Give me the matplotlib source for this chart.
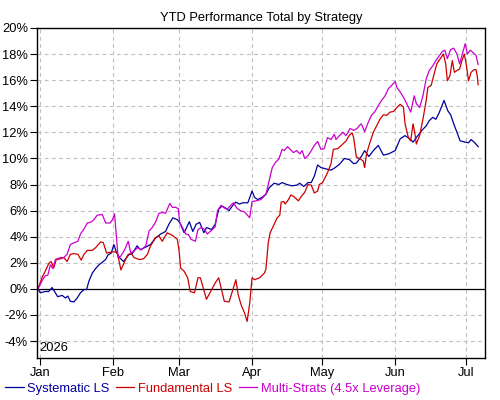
import matplotlib
matplotlib.use("Agg")
import matplotlib.pyplot as plt
import matplotlib.dates as mdates
from matplotlib import ticker
import pandas as pd

plt.rcParams["font.family"] = ["Liberation Sans", "DejaVu Sans"]
FS = 9.3
plt.rcParams["font.size"] = FS

START = pd.Timestamp("2026-01-01")

# days since Jan 1 2026 and YTD return in %
sys_days = [-1.0, 0, 2.1, 3.6, 5.0, 6.4, 7.4, 9.3, 10.7, 11.7, 12.8, 14.3, 15.7, 17.1, 18.6, 19.7, 20.7, 22.1, 23.5, 25.0, 26.4, 27.8, 28.8, 30.2, 31.3,
            32.4, 33.7, 35.4, 37.6, 39.1, 41.2, 42.6, 44.8, 46.9, 49.0, 51.2, 53.3, 54.7, 56.4, 58.3,
            59.3, 61.2, 63.4, 64.9, 66.3, 67.8, 69.6, 70.7, 72.9, 74.4, 75.9, 77.3, 78.8, 80.3, 81.7, 83.2, 84.7, 86.1, 88.3,
            90.1, 91.2, 92.6, 94.6, 96.0, 97.4, 99.5, 101.5, 102.9, 104.9, 107.0, 109.1, 110.4, 112.1, 113.9, 115.3, 116.6, 118.0, 119.4,
            121.5, 123.7, 125.1, 127.3, 129.4, 131.6, 133.3, 134.5, 136.6, 138.0, 139.8, 141.7, 143.8, 146.0, 148.2, 151.0,
            153.1, 155.2, 157.2, 158.6, 160.0, 162.1, 164.2, 165.5, 167.0, 168.3, 169.7, 171.8, 173.4, 174.6, 175.9, 177.3, 178.6, 180.7,
            182.2, 183.3, 184.9, 186.3]
sys_vals = [0, -0.3, -0.2, -0.2, 0.1, -0.3, -0.6, -0.5, -0.7, -0.55, -0.95, -1.0, -0.7, -0.3, -0.05, -0.05, 0.6, 1.2, 1.55, 1.85, 2.05, 2.25, 2.6, 2.75, 3.4,
            2.8, 2.4, 2.1, 2.6, 2.7, 3.3, 3.0, 3.2, 3.4, 3.9, 4.2, 4.4, 4.95, 5.45, 5.3,
            5.1, 4.3, 5.15, 4.4, 4.95, 5.1, 4.3, 4.7, 4.55, 4.95, 6.1, 6.35, 6.2, 6.0, 6.35, 6.65, 6.5, 6.6, 6.6,
            7.5, 7.0, 6.85, 7.05, 7.25, 7.75, 8.1, 8.0, 8.15, 8.0, 7.9, 7.95, 8.1, 7.85, 8.15, 8.15, 8.65, 9.5, 9.3,
            9.2, 9.1, 9.25, 9.55, 10.0, 9.9, 9.6, 9.65, 10.15, 10.6, 10.15, 10.6, 11.0, 10.25, 10.35, 10.6,
            11.5, 11.75, 11.5, 11.25, 11.6, 12.1, 12.5, 12.9, 13.15, 13.0, 13.5, 14.45, 13.65, 13.35, 12.65, 12.0, 11.35, 11.25,
            11.2, 11.45, 11.2, 10.9]

fund_days = [-1.0, 0.7, 2.1, 3.6, 4.6, 5.7, 6.8, 8.6, 10.0, 11.4, 12.8, 14.3, 16.0, 17.4, 18.6, 20.0, 22.1, 23.5, 25.7, 26.8, 28.2, 29.7, 31.4,
             32.8, 34.3, 35.9, 37.4, 38.8, 39.9, 42.1, 43.9, 45.6, 46.9, 49.0, 50.5, 51.9, 54.0, 56.2, 58.3,
             59.0, 59.7, 61.2, 62.7, 63.8, 65.6, 67.1, 68.1, 69.3, 70.7, 72.5, 74.4, 75.9, 76.9, 78.3, 80.3, 81.7, 83.2, 84.2, 85.4, 86.9, 88.0, 89.1,
             90.1, 91.2, 93.3, 95.3, 96.0, 97.0, 97.8, 99.5, 100.8, 101.9, 102.5, 103.6, 104.2, 105.6, 106.6, 107.7, 109.8, 111.1, 112.5, 113.9, 115.3, 116.6, 118.0, 118.7,
             120.1, 122.2, 123.7, 124.7, 126.6, 128.7, 130.1, 131.6, 132.7, 133.3, 134.5, 135.9, 137.4, 138.0, 138.8, 140.2, 141.7, 143.1, 144.5, 146.0, 147.4, 148.8, 150.3,
             151.7, 153.1, 154.5, 155.2, 156.6, 157.6, 158.6, 159.3, 160.0, 161.4, 162.8, 164.2, 164.9, 166.3, 167.6, 168.7, 170.4, 171.5, 172.5, 173.2, 174.3, 175.3, 176.2, 177.3, 178.4, 179.4, 180.4,
             181.2, 182.2, 183.3, 184.5, 185.4, 185.9, 186.3]
fund_vals = [0, 0.85, 1.35, 1.95, 2.1, 1.6, 2.25, 2.3, 2.4, 2.1, 2.65, 2.7, 2.65, 2.2, 2.65, 2.95, 2.95, 3.15, 3.6, 3.55, 2.75, 2.8, 2.85,
             2.75, 1.45, 2.1, 2.65, 2.7, 2.4, 2.25, 2.3, 2.65, 3.3, 3.9, 4.05, 3.65, 4.3, 4.1, 3.8,
             3.0, 1.6, 1.35, 0.85, -0.2, -0.3, 0.85, 0.85, 0.1, -0.8, -0.2, 0.45, 0.85, 0.1, -0.95, -1.0, -0.2, 0.7, -0.45, -1.2, -1.85, -2.5, -1.1,
             0.85, 0.7, 0.85, 1.2, 1.5, 3.55, 4.3, 4.95, 5.45, 5.65, 6.65, 6.7, 6.5, 6.85, 7.2, 7.1, 6.75, 7.1, 7.4, 8.0, 7.95, 7.35, 7.5, 8.0,
             8.15, 8.9, 9.6, 10.7, 10.75, 11.1, 11.35, 11.8, 11.95, 11.6, 10.1, 10.0, 9.8, 9.3, 10.35, 11.2, 12.0, 12.5, 13.0, 13.35, 13.3, 13.55, 13.6,
             13.9, 14.15, 13.95, 12.65, 11.6, 11.35, 12.65, 12.0, 11.1, 11.75, 13.0, 14.45, 15.45, 15.6, 16.5, 17.25, 17.7, 18.0, 17.25, 15.95, 16.35, 17.5, 16.6, 16.75, 16.85, 17.5, 18.0,
             17.25, 15.95, 16.6, 16.8, 16.8, 16.35, 15.65]

multi_days = [-1.0, 0.7, 2.1, 3.2, 4.3, 5.4, 6.4, 8.6, 10.0, 11.4, 12.8, 14.5, 16.0, 17.1, 18.6, 20.0, 21.4, 22.8, 24.2, 26.4, 27.8, 29.7, 30.7, 31.6,
              32.5, 33.1, 34.2, 35.9, 37.4, 38.5, 39.9, 41.3, 43.0, 44.9, 46.3, 47.6, 49.0, 50.5, 51.9, 53.3, 55.1, 56.2, 57.6, 58.7,
              59.3, 60.5, 61.9, 63.1, 64.1, 66.0, 67.1, 68.5, 70.0, 71.0, 72.9, 74.4, 75.4, 76.9, 78.3, 79.5, 81.0, 82.2, 83.6, 85.1, 86.9, 89.1,
              90.1, 91.9, 93.9, 96.0, 97.4, 98.7, 100.1, 101.5, 102.9, 103.8, 105.2, 106.3, 107.7, 109.1, 110.4, 111.4, 112.5, 113.9, 115.3, 116.6, 118.0, 119.4,
              120.8, 122.2, 123.7, 125.1, 125.8, 127.3, 128.7, 130.1, 131.8, 133.3, 134.8, 135.9, 136.6, 138.0, 139.5, 140.9, 142.4, 143.8, 145.2, 146.7, 148.1, 149.5, 151.0,
              151.7, 153.1, 154.5, 155.9, 157.6, 159.1, 160.0, 161.4, 162.8, 164.2, 165.5, 167.0, 168.3, 169.7, 171.1, 172.1, 173.2, 174.6, 175.9, 177.3, 178.4, 179.4, 180.8,
              181.7, 182.9, 184.2, 185.4, 186.3]
multi_vals = [0, 0.6, 1.0, 1.05, 1.85, 1.55, 2.25, 2.4, 2.4, 2.65, 3.4, 3.55, 3.65, 4.2, 4.6, 5.05, 5.1, 5.3, 5.65, 5.7, 5.05, 5.05, 5.3, 5.75,
              3.8, 2.4, 2.5, 3.0, 3.65, 2.75, 2.9, 3.15, 3.0, 3.3, 4.45, 4.7, 5.1, 5.8, 5.85, 5.8, 6.55, 6.25, 6.25, 6.15,
              5.1, 4.7, 4.2, 4.15, 3.8, 3.65, 4.55, 4.7, 4.55, 4.2, 4.5, 4.75, 6.0, 6.4, 6.2, 6.1, 6.4, 6.6, 6.2, 6.0, 5.9, 5.45,
              6.7, 6.75, 6.85, 7.25, 8.3, 9.3, 9.7, 9.95, 10.7, 10.6, 10.9, 10.7, 10.45, 10.6, 10.35, 10.6, 10.0, 10.2, 10.6, 11.0, 11.3, 10.7,
              10.75, 11.6, 11.45, 11.85, 11.45, 11.75, 12.0, 11.75, 12.3, 12.15, 12.3, 12.55, 12.65, 12.05, 12.75, 13.3, 13.6, 14.05, 14.45, 14.8, 15.35, 15.6, 15.9,
              15.45, 15.1, 14.7, 14.2, 13.55, 14.8, 14.2, 13.9, 14.8, 16.1, 16.75, 17.1, 17.5, 17.85, 18.2, 18.3, 17.65, 18.35, 18.45, 18.0, 17.25, 17.9, 18.8,
              18.0, 18.3, 18.1, 17.9, 17.2]

series = [
    ("Systematic LS", sys_days, sys_vals, "#00009c"),
    ("Fundamental LS", fund_days, fund_vals, "#cc0000"),
    ("Multi-Strats (4.5x Leverage)", multi_days, multi_vals, "#cc00cc"),
]


def to_dates(days):
    return START + pd.to_timedelta(days, unit="D")


fig = plt.figure(figsize=(5, 4), dpi=100)
ax = fig.add_axes([0.074, 0.105, 0.895, 0.825])

for name, days, vals, color in series:
    ax.plot(to_dates(days), vals, color=color, lw=0.9, label=name)

ax.axhline(0, color="black", lw=0.9, zorder=1)
ax.grid(True, color="#c0c0c0", linestyle=(0, (3.5, 3)), lw=0.8)
ax.set_axisbelow(True)

ax.set_xlim(to_dates(-1.4), to_dates(189))
ax.set_ylim(-5.3, 20)
ax.set_yticks(range(-4, 21, 2))
ax.yaxis.set_major_formatter(ticker.FuncFormatter(lambda v, _: f"{v:.0f}%"))
ax.xaxis.set_major_locator(mdates.MonthLocator())
ax.xaxis.set_major_formatter(mdates.DateFormatter("%b"))
ax.tick_params(axis="both", direction="out", length=5, width=0.8, pad=1.5, labelsize=FS)

for sp in ax.spines.values():
    sp.set_linewidth(1.0)

ax.set_title("YTD Performance Total by Strategy", fontsize=FS, pad=5)
ax.text(0.005, 0.012, "2026", transform=ax.transAxes, fontsize=FS, ha="left", va="bottom")

leg = fig.legend(loc="center left", bbox_to_anchor=(-0.002, 0.028), ncol=3, frameon=False,
                 handlelength=1.4, handletextpad=0.3, columnspacing=0.5, borderpad=0,
                 fontsize=FS)
for text, line in zip(leg.get_texts(), leg.get_lines()):
    text.set_color(line.get_color())

fig.savefig("out.png", dpi=100)
